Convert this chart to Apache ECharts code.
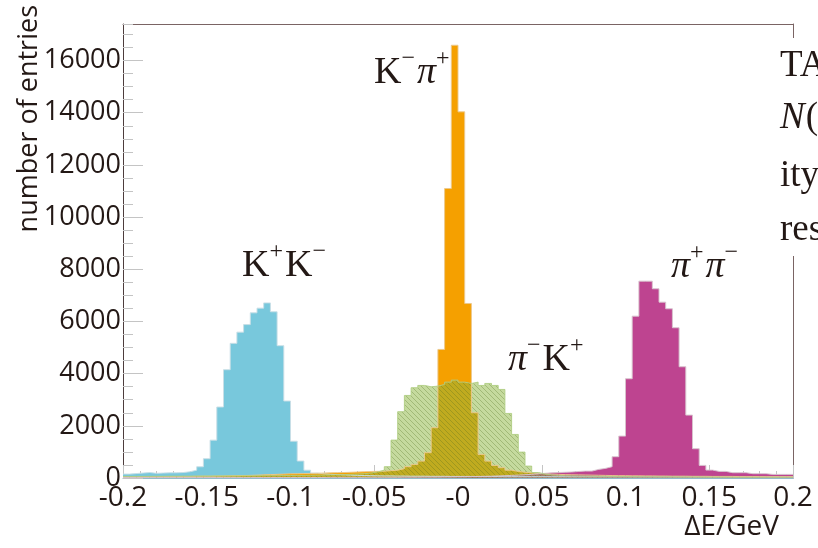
<!DOCTYPE html>
<html><head><meta charset="utf-8">
<script src="https://cdn.jsdelivr.net/npm/echarts@6/dist/echarts.min.js"></script>
<style>html,body{margin:0;padding:0;background:#fff}#c{width:818px;height:548px}</style>
</head><body><div id="c"></div>
<script>
// ---------- data ----------
const binMin = -0.2, binWidth = 0.004;
const xMin = -0.2, xMax = 0.2, xStep = 0.05;
const yMax = 17400, yStep = 2000, yMinorStep = 500;
const xTickLabels = ['-0.2','-0.15','-0.1','-0.05','-0','0.05','0.1','0.15','0.2'];
const xTitle = 'ΔE/GeV';
const yTitle = 'number of entries';

const kkCounts = [150,170,190,210,180,190,200,200,210,240,
 300,430,740,1450,2720,4150,5160,5590,5880,6330,
 6510,6710,6370,5070,2950,1410,650,300,190,160,
 140,130,120,110,100,95,90,85,80,80,
 75,75,70,70,70,65,65,65,60,60,
 60,60,55,55,55,55,50,50,50,50,
 50,50,50,48,48,48,46,46,46,45,
 45,45,44,44,44,43,43,43,42,42,
 42,41,41,41,40,40,40,40,40,40,
 40,40,40,40,40,40,40,40,40,40];

const kpiCounts = [40,40,45,45,50,50,55,55,60,60,
 65,70,70,75,80,85,90,95,100,110,
 120,130,140,150,160,165,170,175,180,190,
 200,205,210,220,230,240,250,255,260,280,
 300,356,433,521,647,969,1927,4927,11095,16585,
 14033,6689,2501,904,647,483,395,300,250,220,
 200,180,160,150,140,130,125,120,115,110,
 105,100,95,90,90,85,85,80,80,75,
 75,70,70,70,65,65,65,60,60,60,
 60,55,55,55,55,50,50,50,50,50];

const piKCounts = [60,60,60,65,65,65,70,70,70,70,
 75,75,75,80,80,80,80,85,85,85,
 90,90,90,95,95,100,100,105,110,115,
 120,125,130,140,150,165,190,230,300,433,
 1452,2540,3164,3459,3547,3497,3521,3586,3674,3751,
 3674,3624,3674,3547,3624,3547,3394,2475,1670,992,
 456,210,150,120,100,90,85,80,75,70,
 65,65,60,60,55,55,50,50,50,45,
 45,45,40,40,40,40,35,35,35,35,
 30,30,30,30,30,30,30,30,30,30];

const pipiCounts = [20,20,20,20,20,20,20,20,20,20,
 20,20,20,20,20,20,20,20,20,20,
 20,20,20,20,20,20,20,20,20,20,
 25,25,25,25,25,25,30,30,30,30,
 30,35,35,35,40,40,40,45,45,50,
 50,55,60,65,70,80,90,100,110,125,
 140,160,180,200,210,220,230,250,265,265,
 330,368,433,816,1605,3804,6203,7544,7544,7252,
 6739,6486,5758,4264,2410,1122,483,303,253,253,
 203,203,203,165,165,165,138,138,138,138];

const seriesNames = ['K+K-', 'K-pi+', 'pi+pi-', 'pi-K+'];

// ---------- build ----------
function steps(counts){
  const pts = counts.map((c,i)=>[+(binMin + i*binWidth).toFixed(4), c]);
  pts.push([+(binMin + counts.length*binWidth).toFixed(4), counts[counts.length-1]]);
  return pts;
}
function hatch(){
  const s = 5;
  const c = document.createElement('canvas'); c.width = s; c.height = s;
  const g = c.getContext('2d');
  g.fillStyle = 'rgba(140,182,62,0.5)'; g.fillRect(0,0,s,s);
  g.strokeStyle = 'rgba(80,110,30,0.3)'; g.lineWidth = 1;
  g.beginPath();
  g.moveTo(-1,-1); g.lineTo(s+1,s+1);
  g.moveTo(-1,s-1); g.lineTo(1,s+1);
  g.moveTo(s-1,-1); g.lineTo(s+1,1);
  g.stroke();
  return c;
}
const txtColor = '#231815';
const frameColor = '#7a6464';
const tickColor = '#c4c4c4';
const sansFont = '"Open Sans", "DejaVu Sans", sans-serif';
const serif = '"Liberation Serif", "DejaVu Serif", serif';

const mctx = document.createElement('canvas').getContext('2d');
function measure(t, font){ mctx.font = font; return mctx.measureText(t).width; }

function chemLabel(x, base, parts){
  const els = []; let cx = x;
  parts.forEach(([t, sup])=>{
    const size = sup ? 24 : 38;
    const font = (t === 'π' ? 'italic ' : '') + size + 'px ' + serif;
    const y = base - (sup ? 19 : 0) - 0.34*size;
    els.push({type:'text', x:cx, y:y, z:50,
      style:{text:t, font:font, fill:txtColor, align:'left', textAlign:'left', verticalAlign:'middle', textVerticalAlign:'middle'}});
    cx += measure(t, font) + (sup ? 2 : 0);
  });
  return els;
}

const graphics = [];
graphics.push(...chemLabel(242, 279, [['K',0],['+',1],['K',0],['−',1]]));
graphics.push(...chemLabel(374, 86, [['K',0],['−',1],['π',0],['+',1]]));
graphics.push(...chemLabel(508, 373, [['π',0],['−',1],['K',0],['+',1]]));
graphics.push(...chemLabel(671, 280, [['π',0],['+',1],['π',0],['−',1]]));

// page text fragment at the right (cut off by the image edge)
graphics.push({type:'rect', shape:{x:777, y:38, width:41, height:218}, style:{fill:'#fff'}, z:40});
const sideLines = [['TA',''],['N','italic '],['ity',''],['res','']];
const sideBase = [79, 131, 189, 243];
const sideSize = 37;
sideLines.forEach(([t, st], i)=>{
  const font = st + sideSize + 'px ' + serif;
  graphics.push({type:'text', x:780, y:sideBase[i] - 0.34*sideSize, z:50,
    style:{text:t, font:font, fill:txtColor, align:'left', textAlign:'left', verticalAlign:'middle', textVerticalAlign:'middle'}});
  if (t === 'N') {
    const w = measure('N', font);
    graphics.push({type:'text', x:780 + w + 1, y:sideBase[i] - 0.34*sideSize, z:50,
      style:{text:'(', font:sideSize + 'px ' + serif, fill:txtColor, align:'left', textAlign:'left', verticalAlign:'middle', textVerticalAlign:'middle'}});
  }
});

// axis titles
graphics.push({type:'text', x:29, y:5, rotation:Math.PI/2, z:50,
  style:{text:yTitle, font:'27px ' + sansFont, fill:txtColor, align:'right', textAlign:'right', verticalAlign:'middle', textVerticalAlign:'middle'}});
graphics.push({type:'text', x:779, y:527, z:50,
  style:{text:xTitle, font:'28px ' + sansFont, fill:txtColor, align:'right', textAlign:'right', verticalAlign:'middle', textVerticalAlign:'middle'}});

function histSeries(name, counts, fill, lineColor){
  return {
    name:name, type:'line', step:'end', data:steps(counts), symbol:'none',
    xAxisIndex:0, yAxisIndex:0,
    lineStyle:{color:lineColor, width:1},
    areaStyle:{color:fill, opacity:1, origin:'start'},
    emphasis:{disabled:true}, silent:true, animation:false
  };
}

const option = {
  animation:false,
  backgroundColor:'#fff',
  grid:{left:123, right:25, top:24, bottom:70, containLabel:false},
  xAxis:[
    {type:'value', min:xMin, max:xMax, interval:xStep, position:'bottom',
     axisLine:{show:true, onZero:false, lineStyle:{color:'#93bccb', width:1}},
     axisTick:{show:true, inside:true, length:13, lineStyle:{color:tickColor}},
     minorTick:{show:true, splitNumber:5, length:7, lineStyle:{color:tickColor}},
     splitLine:{show:false}, minorSplitLine:{show:false},
     axisLabel:{show:true, margin:6, color:txtColor, fontFamily:sansFont, fontSize:28,
       formatter:(v)=>xTickLabels[Math.round((v - xMin)/xStep)] ?? ''}},
    {type:'value', min:xMin, max:xMax, position:'top',
     axisLine:{show:true, onZero:false, lineStyle:{color:frameColor, width:1}},
     axisTick:{show:false}, axisLabel:{show:false}, splitLine:{show:false}}
  ],
  yAxis:[
    {type:'value', min:0, max:yMax, interval:yStep, position:'left',
     axisLine:{show:true, onZero:false, lineStyle:{color:'#4d3c3c', width:1}},
     axisTick:{show:true, inside:true, length:20, lineStyle:{color:tickColor}},
     splitLine:{show:false},
     axisLabel:{show:true, margin:2, color:txtColor, fontFamily:sansFont, fontSize:27, showMaxLabel:false,
       formatter:(v)=> (v % yStep === 0) ? String(v) : ''}},
    {type:'value', min:0, max:yMax, interval:yMinorStep, position:'left',
     axisLine:{show:false, onZero:false}, axisLabel:{show:false}, splitLine:{show:false},
     axisTick:{show:true, inside:true, length:10, lineStyle:{color:tickColor}}},
    {type:'value', min:0, max:yMax, position:'right',
     axisLine:{show:true, onZero:false, lineStyle:{color:frameColor, width:1}},
     axisTick:{show:false}, axisLabel:{show:false}, splitLine:{show:false}}
  ],
  series:[
    histSeries(seriesNames[0], kkCounts, '#78c8dc', 'rgba(200,222,230,0.95)'),
    histSeries(seriesNames[1], kpiCounts, '#f5a000', 'rgba(235,200,140,0.95)'),
    histSeries(seriesNames[2], pipiCounts, '#be4490', 'rgba(215,195,205,0.95)'),
    histSeries(seriesNames[3], piKCounts, {image:hatch(), repeat:'repeat'}, 'rgba(175,205,130,0.9)')
  ],
  graphic:{elements:graphics}
};
const chart = echarts.init(document.getElementById('c'), null, {renderer:'canvas'});
chart.setOption(option);
</script></body></html>
